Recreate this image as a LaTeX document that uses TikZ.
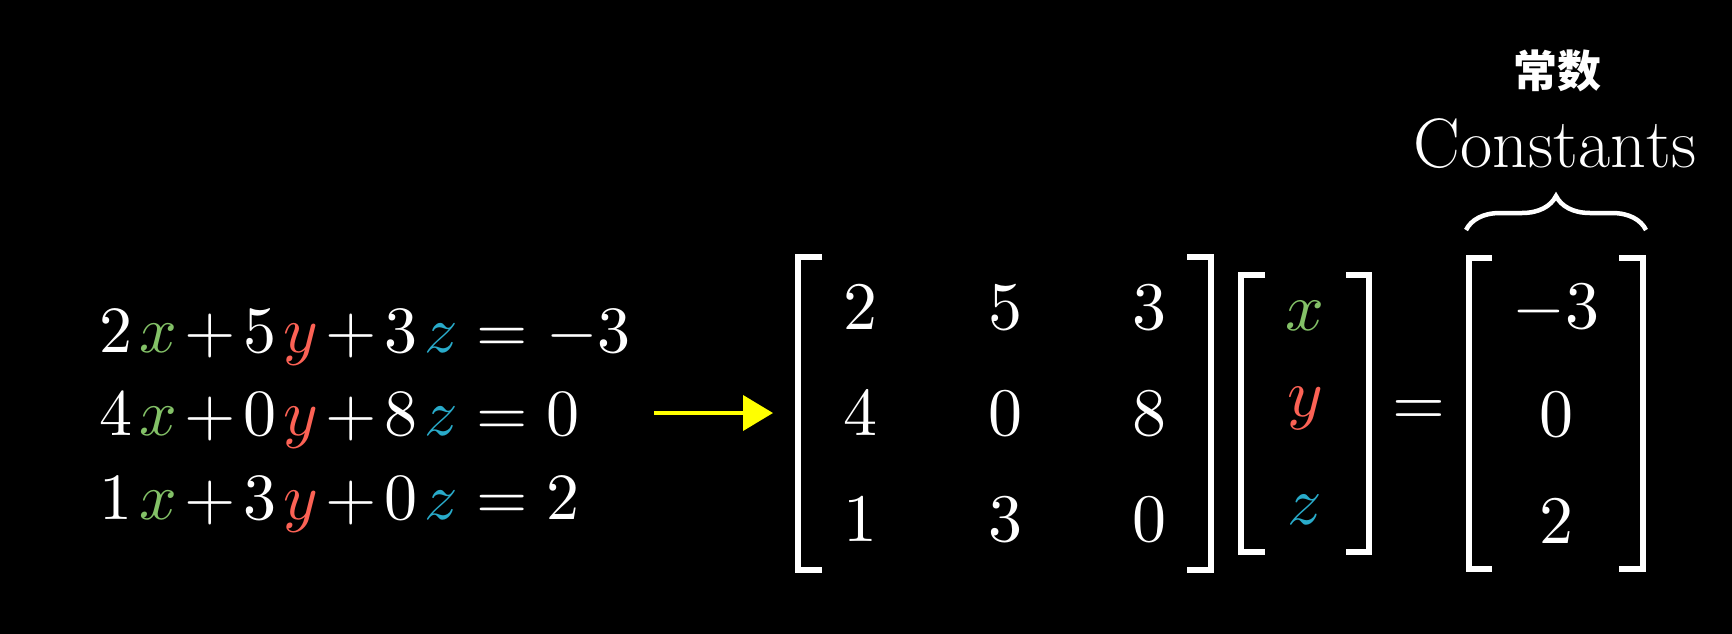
\documentclass[tikz,border=0pt]{standalone}
\usepackage{fontspec}
\newfontfamily\cjk{Noto Sans CJK SC}
\DeclareFontShape{OT1}{cmr}{m}{n}{<->cmr10}{}
\DeclareFontShape{OML}{cmm}{m}{it}{<->cmmi10}{}
\DeclareFontShape{OMS}{cmsy}{m}{n}{<->cmsy10}{}
\DeclareFontShape{OMX}{cmex}{m}{n}{<->cmex10}{}
\usetikzlibrary{arrows.meta,decorations.pathreplacing}
\definecolor{gx}{HTML}{83C167}
\definecolor{ry}{HTML}{FC6255}
\definecolor{bz}{HTML}{29ABCA}
\definecolor{yel}{HTML}{FFFF00}
\newcommand{\vx}{\textcolor{gx}{x}}
\newcommand{\vy}{\textcolor{ry}{y}}
\newcommand{\vz}{\textcolor{bz}{z}}
\newcommand{\cg}{\mkern2mu}
\newcommand{\eqs}[1]{\medmuskip=2mu\thickmuskip=5mu$#1$}
\tikzset{
  big/.style={font=\fontsize{66}{80}\selectfont, text=white, inner sep=0pt},
  bigm/.style={font=\fontsize{68}{80}\selectfont, text=white, inner sep=0pt},
  eqn/.style={big, anchor=base west},
  ent/.style={bigm, anchor=center},
  brk/.style={draw=white, line width=6.5pt, line join=miter, line cap=butt},
}
\begin{document}
\begin{tikzpicture}[x=1pt,y=-1pt]
\fill[black] (0,0) rectangle (1732,634);
\useasboundingbox (0,0) rectangle (1732,634);

% system of equations
\node[eqn] (e1) at (99,352) {\eqs{2\cg\vx+5\cg\vy+3\cg\vz=-3}};
\node[eqn] (e2) at (99,435) {\eqs{4\cg\vx+0\cg\vy+8\cg\vz=0}};
\node[eqn] (e3) at (99,519) {\eqs{1\cg\vx+3\cg\vy+0\cg\vz=2}};

% arrow
\coordinate (aS) at (654,413);
\coordinate (aE) at (773,413);
\draw[yel, line width=4pt, -{Triangle[length=30pt,width=35pt]}] (aS) -- (aE);

% coefficient matrix
\draw[brk] (822,257) -- (798,257) -- (798,570) -- (822,570);
\draw[brk] (1187,257) -- (1211,257) -- (1211,570) -- (1187,570);
\node[ent] (m11) at (860,308) {$2$};
\node[ent] (m12) at (1005,308) {$5$};
\node[ent] (m13) at (1149,308) {$3$};
\node[ent] (m21) at (860,414) {$4$};
\node[ent] (m22) at (1005,414) {$0$};
\node[ent] (m23) at (1149,414) {$8$};
\node[ent] (m31) at (860,520) {$1$};
\node[ent] (m32) at (1005,520) {$3$};
\node[ent] (m33) at (1149,520) {$0$};

% variable vector
\draw[brk] (1265,275) -- (1241,275) -- (1241,552) -- (1265,552);
\draw[brk] (1346,275) -- (1369,275) -- (1369,552) -- (1346,552);
\node[ent] (vx) at (1305,316) {$\vx$};
\node[ent] (vy) at (1305,408) {$\vy$};
\node[ent] (vz) at (1305,510) {$\vz$};

% equals
\node[ent] (eq) at (1419,413) {$=$};

% constants vector
\draw[brk] (1492,258) -- (1469,258) -- (1469,569) -- (1492,569);
\draw[brk] (1619,258) -- (1643,258) -- (1643,569) -- (1619,569);
\node[ent] (c1) at (1556,309) {$-3$};
\node[ent] (c2) at (1556,415) {$0$};
\node[ent] (c3) at (1556,522) {$2$};

% brace and labels
\coordinate (bL) at (1466,230);
\coordinate (bR) at (1646,230);
\draw[white, line width=4.5pt, decorate, decoration={brace, amplitude=34pt}] (bL) -- (bR);
\node[text=white, inner sep=0pt, anchor=base, font=\fontsize{70}{80}\selectfont] (cons) at (1555,167) {$\mathrm{Constants}$};
\node[text=white, inner sep=0pt, anchor=center, font=\cjk\bfseries\fontsize{44}{50}\selectfont] (cn) at (1557,71) {常数};
\end{tikzpicture}
\end{document}
